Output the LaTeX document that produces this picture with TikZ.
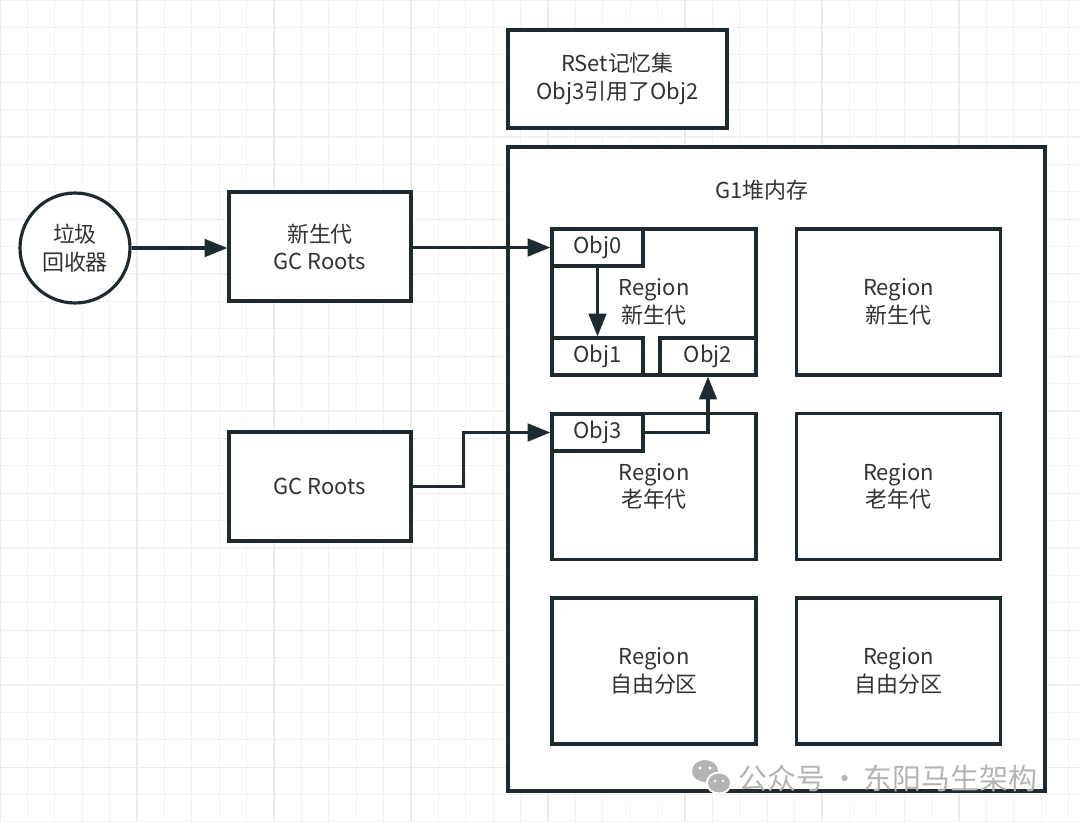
\documentclass[tikz,border=0pt]{standalone}
\usepackage{fontspec}
\setmainfont{Noto Sans CJK SC}
\usepackage{xcolor}
\usetikzlibrary{arrows.meta,positioning}
\definecolor{ink}{HTML}{1F2930}
\definecolor{txt}{HTML}{333333}
\definecolor{gridminor}{HTML}{F2F2F2}
\definecolor{gridmajor}{HTML}{EBEBEB}
\definecolor{wmark}{HTML}{B4B4B4}
\tikzset{
  box/.style={draw=ink, line width=1.8pt, fill=white, text=txt, align=center,
    font=\fontsize{12.5}{15.5}\selectfont, inner sep=0pt},
  regionbox/.style={box, minimum width=4.08cm, minimum height=2.92cm},
  objbox/.style={box, minimum width=1.82cm, minimum height=0.74cm},
  conn/.style={draw=ink, line width=1.8pt, -{Triangle[length=13pt,width=10pt]}}
}
\begin{document}
\begin{tikzpicture}[x=0.02cm,y=-0.02cm]
\useasboundingbox (0,0) rectangle (1080,822);
\fill[white] (0,0) rectangle (1080,822);
% grid
\foreach \i in {0,...,40}{
\draw[gridminor, line width=0.6pt] (\i*27.4,0) -- (\i*27.4,822);
\draw[gridminor, line width=0.6pt] (0,\i*27.4) -- (1080,\i*27.4);
}
\foreach \i in {0,...,7}{
\draw[gridmajor, line width=0.7pt] (\i*137,0) -- (\i*137,822);
\draw[gridmajor, line width=0.7pt] (0,82.7+\i*137-137) -- (1080,82.7+\i*137-137);
}

\node[box, circle, minimum size=2.2cm] (collector) at (75,248) {垃圾\\回收器};
\node[box, minimum width=3.64cm, minimum height=2.18cm] (gcnew) at (320,246.5) {新生代\\GC Roots};
\node[box, minimum width=3.64cm, minimum height=2.18cm] (gcroots) at (320,486.5) {GC Roots};
\node[box, minimum width=4.38cm, minimum height=1.96cm] (rset) at (617.5,79) {RSet记忆集\\Obj3引用了Obj2};

\node[box, minimum width=10.74cm, minimum height=12.88cm] (heap) at (776.5,469) {};
\node[text=txt, font=\fontsize{12.5}{15.5}\selectfont] (heaplabel) at (762,190) {G1堆内存};

\node[regionbox] (youngA) at (654,302) {Region\\新生代};
\node[regionbox] (youngB) at (898.5,302) {Region\\新生代};
\node[regionbox] (oldA) at (654,486.5) {Region\\老年代};
\node[regionbox] (oldB) at (898.5,486.5) {Region\\老年代};
\node[regionbox] (freeA) at (654,671) {Region\\自由分区};
\node[regionbox] (freeB) at (898.5,671) {Region\\自由分区};

\node[objbox] (obj0) at (597.5,247.5) {Obj0};
\node[objbox] (obj1) at (597.5,356.5) {Obj1};
\node[objbox, minimum width=1.92cm] (obj2) at (708,356.5) {Obj2};
\node[objbox] (obj3) at (597.5,432.5) {Obj3};

\draw[conn] (collector.east) -- (collector.east -| gcnew.west);
\draw[conn] (gcnew.east |- obj0.west) -- (obj0.west);
\draw[conn] (obj0.south) -- (obj1.north);
\draw[conn] (gcroots.east) -- ++(51,0) |- (obj3.west);
\draw[conn] (obj3.east) -| (obj2.south);

% watermark
\fill[wmark] (705,771) ellipse (13 and 11);
\fill[white] (719,783) ellipse (13 and 11.5);
\fill[wmark] (719,783) ellipse (11 and 9.5);
\fill[white] (700,768) circle (1.6) (710,768) circle (1.6) (715,781) circle (1.4) (723,781) circle (1.4);
\node[anchor=west, text=wmark, font=\fontsize{16.5}{18}\selectfont, inner sep=0pt] (wm) at (738,778) {公众号\,·\,东阳马生架构};
\end{tikzpicture}
\end{document}
